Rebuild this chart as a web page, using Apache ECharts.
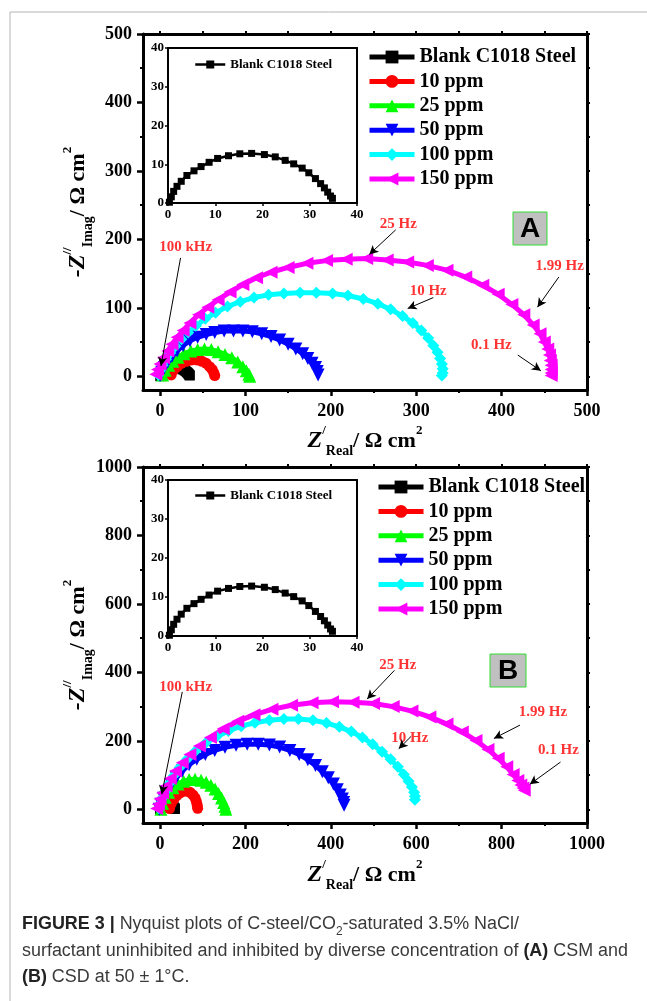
<!DOCTYPE html>
<html>
<head>
<meta charset="utf-8">
<script src="https://cdn.jsdelivr.net/npm/echarts@6/dist/echarts.min.js"></script>
<style>
html, body { margin: 0; padding: 0; background: #fff; }
#chart { width: 647px; height: 1001px; }
</style>
</head>
<body>
<div id="chart"></div>
<script>
// ---- data (Z'real, -Z''imag) in ohm cm2 ----
const seriesNames = ['Blank C1018 Steel', '10 ppm', '25 ppm', '50 ppm', '100 ppm', '150 ppm']

const blank = [[0.3, 0.2], [0.7, 1.6], [1.2, 3.0], [1.9, 4.3], [2.8, 5.6], [4.0, 7.1], [5.5, 8.3], [7.0, 9.4],
  [8.7, 10.5], [10.5, 11.5], [12.8, 12.2], [15.2, 12.7], [17.7, 12.8], [20.4, 12.5], [22.7, 11.9], [24.8, 11.0],
  [26.6, 10.1], [28.4, 9.0], [29.8, 7.8], [31.2, 6.3], [32.3, 5.0], [33.1, 3.9], [33.8, 2.8], [34.4, 1.8], [34.8, 1.2]]

// panel A (CSM)
const ppm10A = [[13, 2], [16, 9], [20, 14], [25, 19], [31, 22], [37, 24], [43, 24], [49, 22], [54, 19], [58, 14],
  [61, 10], [63, 5], [64, 1]]
const ppm25A = [[3, 2], [6, 9], [10, 16], [15, 22], [21, 28], [28, 33], [36, 37], [44, 39], [52, 40], [60, 39],
  [68, 36], [76, 32], [84, 27], [91, 21], [97, 14], [101, 8], [104, 3], [105, 0]]
const ppm50A = [[0, 1], [2, 6], [5, 13], [9, 21], [14, 29], [20, 37], [27, 45], [35, 52], [44, 57], [54, 61],
  [64, 64], [75, 66], [86, 66], [97, 66], [108, 65], [119, 62], [130, 58], [140, 53], [150, 47], [159, 40],
  [167, 33], [173, 26], [178, 19], [182, 13], [184, 7], [185, 2]]
const ppm100A = [[-2, 2], [0, 8], [3, 16], [7, 25], [12, 34], [18, 44], [25, 54], [33, 64], [42, 74], [53, 84],
  [65, 93], [79, 102], [94, 109], [110, 115], [127, 119], [145, 121], [164, 122], [183, 122], [202, 121],
  [220, 118], [238, 113], [255, 106], [270, 98], [284, 88], [296, 78], [306, 67], [314, 56], [320, 45],
  [325, 35], [328, 26], [330, 18], [331, 11], [331, 5], [330, 1]]
const ppm150A = [[-5, 3], [-3, 10], [0, 18], [4, 27], [9, 37], [14, 47], [20, 57], [27, 67], [35, 78], [45, 90],
  [56, 101], [68, 112], [82, 123], [97, 134], [113, 144], [130, 152], [150, 159], [172, 165], [195, 169],
  [218, 171], [242, 172], [266, 170], [290, 167], [313, 162], [336, 155], [358, 145], [378, 133], [396, 120],
  [412, 105], [426, 90], [437, 75], [445, 62], [450, 50], [454, 40], [456, 31], [457, 23], [458, 16],
  [458, 10], [458, 5], [458, 1]]

// panel B (CSD)
const ppm10B = [[22, 2], [26, 16], [32, 29], [39, 40], [47, 48], [56, 53], [64, 53], [71, 49], [77, 42], [82, 33],
  [85, 23], [87, 12], [88, 3]]
const ppm25B = [[2, 0], [6, 18], [12, 35], [20, 50], [30, 63], [42, 74], [55, 82], [68, 87], [82, 88], [96, 85],
  [108, 79], [119, 70], [129, 59], [137, 46], [144, 33], [149, 20], [152, 9], [154, 0]]
const ppm50B = [[-2, 0], [2, 15], [8, 32], [16, 52], [26, 72], [38, 92], [52, 112], [68, 130], [86, 146],
  [106, 160], [128, 172], [152, 181], [178, 187], [204, 190], [230, 190], [256, 188], [280, 182], [304, 172],
  [326, 160], [346, 145], [364, 128], [380, 110], [394, 92], [406, 74], [415, 57], [422, 42], [427, 30],
  [430, 20], [431, 12]]
const ppm100B = [[-3, 3], [0, 15], [5, 32], [12, 52], [21, 75], [32, 98], [46, 122], [63, 146], [83, 170],
  [106, 192], [132, 212], [160, 229], [190, 243], [222, 253], [256, 260], [290, 264], [324, 264], [358, 260],
  [390, 252], [420, 241], [448, 227], [474, 210], [498, 190], [520, 168], [540, 146], [557, 124], [571, 102],
  [582, 82], [590, 65], [595, 50], [597, 38], [597, 28]]
const ppm150B = [[-8, 2], [-4, 15], [0, 30], [6, 48], [14, 68], [24, 90], [36, 112], [52, 136], [70, 160],
  [92, 185], [118, 210], [148, 235], [182, 257], [220, 276], [262, 292], [308, 304], [356, 311], [404, 314],
  [452, 313], [500, 309], [546, 300], [590, 287], [632, 270], [672, 249], [708, 226], [740, 201], [768, 175],
  [792, 149], [812, 124], [827, 102], [838, 84], [845, 71], [850, 62], [853, 56]]

// frequency annotations: label, text anchor, arrow start, arrow end (data units)
const freqA = [
  ['100 kHz', 30, 188, 24, 173, 1, 15],
  ['25 Hz', 279, 222, 276, 214, 245, 178],
  ['1.99 Hz', 468, 161, 467, 145, 442, 101],
  ['10 Hz', 314, 124, 320, 115, 290, 99],
  ['0.1 Hz', 388, 46, 419, 31, 446, 8]
]
const freqB = [
  ['100 kHz', 60, 358, 52, 343, 4, 44],
  ['25 Hz', 557, 421, 549, 406, 485, 322],
  ['1.99 Hz', 897, 285, 843, 246, 782, 207],
  ['10 Hz', 585, 207, 588, 213, 559, 177],
  ['0.1 Hz', 933, 173, 938, 138, 866, 73]
]

const ticksA = [0, 100, 200, 300, 400, 500]
const minorA = [50, 150, 250, 350, 450]
const ticksB = [0, 200, 400, 600, 800, 1000]
const minorB = [100, 300, 500, 700, 900]

// ---- chart ----
const serif = '"Liberation Serif", "Times New Roman", serif'
const colors = ['#000000', '#ff0000', '#00ff00', '#0000ff', '#00ffff', '#ff00ff']
const symbols = ['rect', 'circle', 'triangle', 'triangle', 'diamond', 'triangle']
const rotates = [0, 0, 0, 180, 0, 90]
const sizes = [10, 11, 13, 13, 12, 13]

const nameRich = {
  it: { fontFamily: serif, fontSize: 24, fontWeight: 'bold', fontStyle: 'italic', lineHeight: 34, verticalAlign: 'middle', color: '#000' },
  b: { fontFamily: serif, fontSize: 22, fontWeight: 'bold', lineHeight: 34, verticalAlign: 'middle', color: '#000' },
  sup: { fontFamily: serif, fontSize: 13, fontWeight: 'bold', lineHeight: 13, verticalAlign: 'top', color: '#000' },
  sub: { fontFamily: serif, fontSize: 14, fontWeight: 'bold', lineHeight: 14, verticalAlign: 'bottom', color: '#000' }
}

const mainAxes = (dim, grid, min, max, majors, minors, name, gap) => {
  const base = { type: 'value', gridIndex: grid, min: min, max: max, splitLine: { show: false } }
  const pos = dim === 'x' ? ['bottom', 'top'] : ['left', 'right']
  return [
    Object.assign({}, base, {
      position: pos[0],
      axisLine: { onZero: false, lineStyle: { color: '#000', width: 3 } },
      axisTick: { customValues: majors, length: 6, lineStyle: { color: '#000', width: 2.5 } },
      axisLabel: {
        customValues: majors, margin: dim === 'x' ? 12 : 11, color: '#000',
        fontFamily: serif, fontWeight: 'bold', fontSize: 18,
        formatter: v => String(v)
      },
      name: name,
      nameLocation: 'middle',
      nameGap: gap,
      nameRotate: dim === 'y' ? 90 : 0,
      nameMoveOverlap: false,
      nameTextStyle: { rich: nameRich }
    }),
    Object.assign({}, base, {
      position: pos[0],
      axisLine: { show: false, onZero: false },
      axisTick: { customValues: minors, length: 3, lineStyle: { color: '#000', width: 2 } },
      axisLabel: { show: false }
    }),
    Object.assign({}, base, {
      position: pos[1],
      axisLine: { onZero: false, lineStyle: { color: '#000', width: 3 } },
      axisTick: { customValues: majors.concat(minors), length: 3, lineStyle: { color: '#000', width: 2 } },
      axisLabel: { show: false }
    })
  ]
}

const insetAxes = (dim, grid) => {
  const base = { type: 'value', gridIndex: grid, min: 0, max: 40, interval: 10, splitLine: { show: false } }
  const pos = dim === 'x' ? ['bottom', 'top'] : ['left', 'right']
  return [
    Object.assign({}, base, {
      position: pos[0],
      axisLine: { onZero: false, lineStyle: { color: '#000', width: 2 } },
      axisTick: { length: 3, lineStyle: { color: '#000', width: 1.5 } },
      axisLabel: { margin: dim === 'x' ? 5 : 4, color: '#000', fontFamily: serif, fontWeight: 'bold', fontSize: 13 }
    }),
    Object.assign({}, base, {
      position: pos[1],
      axisLine: { onZero: false, lineStyle: { color: '#000', width: 2 } },
      axisTick: { show: false },
      axisLabel: { show: false }
    })
  ]
}

const xName = '{it|Z}{sup|/}{sub|Real}{b|/ Ω cm}{sup|2}'
const yName = '{it|-Z}{sup|//}{sub|Imag}{b|/ Ω cm}{sup|2}'

const xAxis = [].concat(
  mainAxes('x', 0, -20, 500, ticksA, minorA, xName, 34),
  insetAxes('x', 1),
  mainAxes('x', 2, -40, 1000, ticksB, minorB, xName, 35),
  insetAxes('x', 3)
)
const yAxis = [].concat(
  mainAxes('y', 0, -20, 500, ticksA, minorA, yName, 48),
  insetAxes('y', 1),
  mainAxes('y', 2, -40, 1000, ticksB, minorB, yName, 48),
  insetAxes('y', 3)
)

const curve = (name, data, i, axis, inset) => ({
  name: name,
  type: 'line',
  xAxisIndex: axis,
  yAxisIndex: axis,
  data: data,
  showSymbol: true,
  symbol: symbols[i],
  symbolRotate: rotates[i],
  symbolSize: inset ? 7 : sizes[i],
  itemStyle: { color: colors[i] },
  lineStyle: { color: colors[i], width: inset ? 2.5 : 5 },
  silent: true
})

const notes = (list, axis) => [
  {
    type: 'line',
    xAxisIndex: axis,
    yAxisIndex: axis,
    data: [],
    silent: true,
    markLine: {
      silent: true,
      symbol: ['none', 'arrow'],
      symbolSize: [7, 9],
      label: { show: false },
      lineStyle: { color: '#000', width: 1, type: 'solid' },
      data: list.map(a => [{ coord: [a[3], a[4]] }, { coord: [a[5], a[6]] }])
    }
  },
  {
    type: 'scatter',
    xAxisIndex: axis,
    yAxisIndex: axis,
    silent: true,
    symbolSize: 1,
    itemStyle: { color: 'rgba(0,0,0,0)' },
    data: list.map(a => ({ value: [a[1], a[2]], name: a[0] })),
    label: {
      show: true, position: 'inside', formatter: '{b}', color: '#ff0000',
      fontFamily: serif, fontWeight: 'bold', fontSize: 15
    }
  }
]

const dataA = [blank, ppm10A, ppm25A, ppm50A, ppm100A, ppm150A]
const dataB = [blank, ppm10B, ppm25B, ppm50B, ppm100B, ppm150B]

const series = [].concat(
  dataA.map((d, i) => curve(seriesNames[i], d, i, 0, false)),
  [curve('insetA', blank, 0, 3, true)],
  notes(freqA, 0),
  dataB.map((d, i) => curve(seriesNames[i], d, i, 5, false)),
  [curve('insetB', blank, 0, 8, true)],
  notes(freqB, 5)
)

const legendText = { fontFamily: serif, fontWeight: 'bold', fontSize: 20, color: '#000' }
const insetText = { fontFamily: serif, fontWeight: 'bold', fontSize: 13, color: '#000' }

const panelBox = (letter, x, y, w, h) => [
  { type: 'rect', shape: { x: x, y: y, width: w, height: h }, style: { fill: '#c0c0c0', stroke: '#33dd33', lineWidth: 1 }, z: 10 },
  {
    type: 'text', x: x + w / 2, y: y + h / 2 + 1, z: 11,
    style: { text: letter, align: 'center', verticalAlign: 'middle', fill: '#000', font: 'bold 28px "Liberation Sans", Arial, sans-serif' }
  }
]

// caption: squeeze the sans font horizontally so the long line spans like the original
const capFamily = '"Liberation Sans", Arial, sans-serif'
const capSize = 18
const measure = document.createElement('canvas').getContext('2d')
measure.font = capSize + 'px ' + capFamily
let capWidth = measure.measureText('surfactant uninhibited and inhibited by diverse concentration of ').width +
  measure.measureText(' CSM and').width
measure.font = 'bold ' + capSize + 'px ' + capFamily
capWidth += measure.measureText('(A)').width
const capScale = 606 / capWidth

const mainLegend = (left, top) => ({
  data: seriesNames, left: left, top: top, orient: 'vertical',
  itemWidth: 45, itemHeight: 16, itemGap: 4.4, selectedMode: false,
  lineStyle: { width: 5 }, textStyle: legendText
})
const insetLegend = (name, top) => ({
  data: [name], formatter: () => 'Blank C1018 Steel', left: 189, top: top,
  itemWidth: 30, itemHeight: 10, selectedMode: false,
  lineStyle: { width: 2.5 }, textStyle: insetText
})

const option = {
  animation: false,
  backgroundColor: '#fff',
  grid: [
    { left: 143, top: 34, width: 444, height: 356, outerBoundsMode: 'none' },
    { left: 168, top: 48, width: 189, height: 155, outerBoundsMode: 'none' },
    { left: 143, top: 467, width: 444, height: 356, outerBoundsMode: 'none' },
    { left: 168, top: 480, width: 189, height: 156, outerBoundsMode: 'none' }
  ],
  xAxis: xAxis,
  yAxis: yAxis,
  legend: [
    mainLegend(362, 42),
    mainLegend(371, 472),
    insetLegend('insetA', 53),
    insetLegend('insetB', 484)
  ],
  series: series,
  graphic: [].concat(
    [
      { type: 'line', shape: { x1: 10, y1: 12, x2: 647, y2: 12 }, style: { stroke: '#b4b4b4', lineWidth: 1 } },
      { type: 'line', shape: { x1: 10, y1: 12, x2: 10, y2: 1001 }, style: { stroke: '#b4b4b4', lineWidth: 1 } }
    ],
    panelBox('A', 513, 212, 34, 33),
    panelBox('B', 490, 654, 36, 33),
    [{
      type: 'text', x: 22, y: 911, scaleX: capScale,
      style: {
        text: '{b|FIGURE 3 |}{n| Nyquist plots of C-steel/CO}{s|2}{n|-saturated 3.5% NaCl/}\n' +
          '{n|surfactant uninhibited and inhibited by diverse concentration of }{b|(A)}{n| CSM and}\n' +
          '{b|(B)}{n| CSD at 50 ± 1°C.}',
        verticalAlign: 'top',
        rich: {
          b: { fontFamily: capFamily, fontWeight: 'bold', fontSize: capSize, lineHeight: 26.5, verticalAlign: 'middle', fill: '#222' },
          n: { fontFamily: capFamily, fontSize: capSize, lineHeight: 26.5, verticalAlign: 'middle', fill: '#3a3a3a' },
          s: { fontFamily: capFamily, fontSize: 12, lineHeight: 17, verticalAlign: 'bottom', fill: '#3a3a3a' }
        }
      }
    }]
  )
}

const mychart = echarts.init(document.getElementById('chart'))
mychart.setOption(option)
</script>
</body>
</html>
